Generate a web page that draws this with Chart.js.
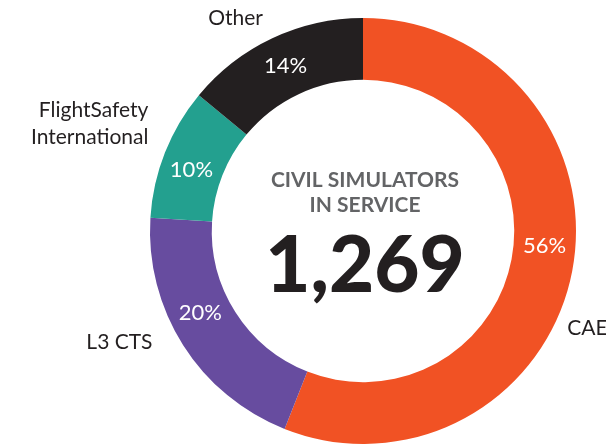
<!DOCTYPE html>
<html>
<head>
<meta charset="utf-8">
<script src="https://cdn.jsdelivr.net/npm/chart.js@4"></script>
<style>
  html, body { margin: 0; padding: 0; background: #fff; }
  #wrap { width: 606px; height: 446px; position: relative; }
</style>
</head>
<body>
<div id="wrap"><canvas id="simChart"></canvas></div>
<script>
// chart data
const companies = ['CAE', 'L3 CTS', 'FlightSafety\nInternational', 'Other'];
const shares = [56, 20, 10, 14];
const sliceColors = ['#F15224', '#674C9F', '#23A08F', '#231F20'];
const centerTitle = ['CIVIL SIMULATORS', 'IN SERVICE'];
const centerTotal = '1,269';

// nudges so the labels sit where the original put them
const nameShift = [14.6, 4.6, 5, 0];   // degrees
const nameGap = [13, 25, 27, 22];      // px beyond the ring
const pctShift = [-6, 5.7, -2, 0];     // degrees

const rad = d => d * Math.PI / 180;

const labelPlugin = {
  id: 'ringLabels',
  afterDatasetsDraw(chart) {
    const ctx = chart.ctx;
    const arcs = chart.getDatasetMeta(0).data;
    if (!arcs.length) return;
    ctx.save();

    arcs.forEach((arc, i) => {
      const p = arc.getProps(['x', 'y', 'startAngle', 'endAngle', 'innerRadius', 'outerRadius'], true);
      const mid = (p.startAngle + p.endAngle) / 2;

      // percent inside ring
      const a1 = mid + rad(pctShift[i]);
      const r1 = (p.innerRadius + p.outerRadius) / 2;
      ctx.fillStyle = '#fff';
      ctx.font = '22px Lato';
      ctx.textAlign = 'center';
      ctx.textBaseline = 'middle';
      ctx.fillText(shares[i] + '%', p.x + Math.cos(a1) * r1, p.y + Math.sin(a1) * r1);

      // company name outside
      const a2 = mid + rad(nameShift[i]);
      const r2 = p.outerRadius + nameGap[i];
      const lx = p.x + Math.cos(a2) * r2;
      const ly = p.y + Math.sin(a2) * r2;
      ctx.fillStyle = '#231F20';
      ctx.font = '21px Lato';
      ctx.textAlign = Math.cos(a2) < 0 ? 'right' : 'left';
      const lines = companies[i].split('\n');
      lines.forEach((t, k) => {
        ctx.fillText(t, lx, ly + (k - (lines.length - 1) / 2) * 27);
      });
    });

    // centre text
    const c = arcs[0];
    ctx.textAlign = 'center';
    ctx.textBaseline = 'middle';
    ctx.fillStyle = '#636466';
    ctx.font = 'bold 21px Lato';
    ctx.fillText(centerTitle[0], c.x + 2, c.y - 51);
    ctx.fillText(centerTitle[1], c.x + 2, c.y - 26);
    ctx.fillStyle = '#231F20';
    ctx.font = '900 78px Lato';
    ctx.fillText(centerTotal, c.x + 2, c.y + 36);
    ctx.restore();
  }
};

new Chart(document.getElementById('simChart'), {
  type: 'doughnut',
  data: {
    labels: companies,
    datasets: [{
      data: shares,
      backgroundColor: sliceColors,
      borderWidth: 0
    }]
  },
  options: {
    responsive: true,
    maintainAspectRatio: false,
    animation: false,
    cutout: '71%',
    layout: { padding: { left: 150, right: 30, top: 18, bottom: 2 } },
    plugins: {
      legend: { display: false },
      tooltip: { enabled: false }
    }
  },
  plugins: [labelPlugin]
});
</script>
</body>
</html>
